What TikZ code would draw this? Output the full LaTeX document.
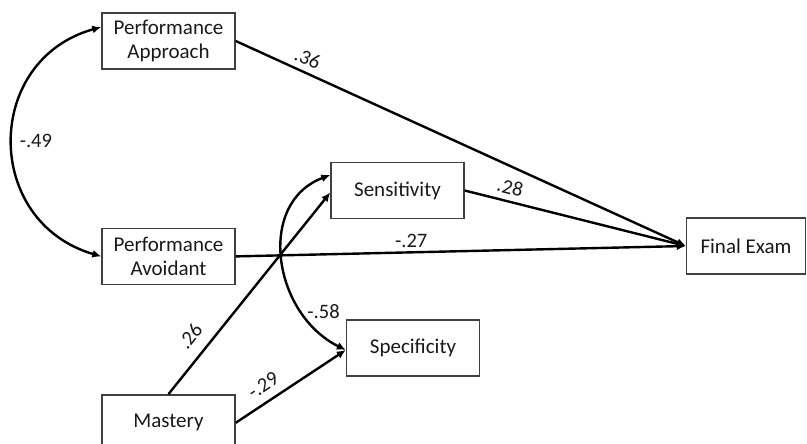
\documentclass[tikz,border=0pt]{standalone}
\usepackage{fontspec}
\setmainfont{Carlito}
\usetikzlibrary{positioning, arrows.meta}

\begin{document}
\begin{tikzpicture}
  [x=1pt, y=-1pt,
   box/.style={rectangle, draw=black!75, line width=1.4pt, minimum width=133pt,
     minimum height=56pt, align=center, text=black!90,
     font=\fontsize{21}{23.5}\selectfont, inner sep=2pt},
   link/.style={line width=2.4pt, -{Latex[length=9pt,width=8pt]}},
   corr/.style={line width=2.4pt, {Latex[length=9pt,width=8pt]}-{Latex[length=9pt,width=8pt]}},
   coef/.style={font=\fontsize{20.5}{23}\selectfont, text=black!90, inner sep=2pt}]
  \useasboundingbox (0,0) rectangle (807,444);

  % nodes %
  \node[box] (pa) at (168.5,41) {Performance\\Approach};
  \node[box, below=158pt of pa] (pav) {Performance\\Avoidant};
  \node[box, below=109pt of pav] (mast) {Mastery};
  \node[box] (sens) at (397.5,190.5) {Sensitivity};
  \node[box] (spec) at (413,348) {Specificity};
  \node[box, minimum width=119pt] (fe) at (746,246) {Final Exam};

  % edges %
  \draw[link] (pa.east) -- (fe.west) node[coef, pos=0.147, sloped, above=4pt] {.36};
  \draw[link] (sens.east) -- (fe.west) node[coef, pos=0.19, sloped, above=4pt] {.28};
  \draw[link] (pav.east) -- (fe.west) node[coef, pos=0.39, above=1pt] {-.27};
  \draw[link] (mast.north) -- ([yshift=-2pt]sens.west) node[coef, pos=0.226, sloped, above=9pt] {.26};
  \draw[link] (mast.east) -- ([yshift=-2pt]spec.west) node[coef, pos=0.33, sloped, above=6pt] {-.29};

  % correlations %
  \draw[corr] ([yshift=14pt]pa.west) .. controls (-17,60) and (-17,222) .. (pav.west)
    node[coef, pos=0.5, right=4pt] {-.49};
  \draw[corr] ([yshift=15.5pt]sens.west) .. controls (256,203) and (273,314) .. ([yshift=-2pt]spec.west)
    node[coef, pos=0.75, right=2pt] {-.58};
\end{tikzpicture}
\end{document}
